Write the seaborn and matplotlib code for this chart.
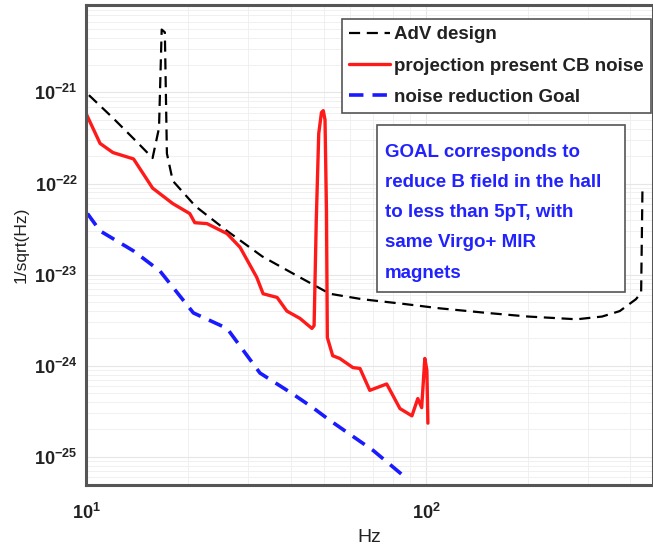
import numpy as np
import pandas as pd
import matplotlib
matplotlib.use("Agg")
import matplotlib.pyplot as plt
from matplotlib.patches import Rectangle
import seaborn as sns

# AdV design sensitivity (log10 of 1/sqrt(Hz))
adv_f = [10.2, 12.0, 14.0, 15.7, 16.4, 16.7, 17.06, 17.3, 18.0, 21.0, 26.0, 33.0, 42.6,
         52.2, 65.0, 85.5, 110.0, 151.0, 200.0, 278.0, 330.0, 372.0, 415.0, 430.0, 434.0]
adv_log = [-21.03, -21.28, -21.53, -21.72, -21.39, -20.31, -20.34, -21.67, -21.97, -22.25,
           -22.52, -22.80, -23.03, -23.21, -23.27, -23.32, -23.37, -23.42, -23.46, -23.49,
           -23.46, -23.40, -23.27, -23.20, -22.02]

# projection present CB noise
cb_f = [10.0, 11.0, 12.0, 13.8, 15.7, 18.0, 20.2, 20.9, 22.7, 26.0, 28.4, 31.8, 33.2, 36.5,
        39.0, 42.6, 46.2, 46.9, 47.6, 48.4, 49.3, 49.9, 50.5, 51.0, 51.3, 53.2, 55.8, 61.0,
        64.0, 68.4, 76.7, 83.9, 91.0, 94.7, 97.2, 99.3, 100.7, 101.4]
cb_log = [-21.23, -21.56, -21.66, -21.73, -22.05, -22.22, -22.33, -22.43, -22.44, -22.55,
          -22.70, -23.03, -23.21, -23.25, -23.40, -23.48, -23.59, -23.56, -22.40, -21.45,
          -21.22, -21.20, -21.30, -22.30, -23.69, -23.89, -23.92, -24.02, -24.03, -24.27,
          -24.20, -24.47, -24.55, -24.36, -24.46, -23.92, -24.05, -24.63]

# noise reduction Goal
goal_f = [10.1, 11.0, 13.8, 16.5, 20.7, 26.0, 32.5, 40.6, 46.5, 52.2, 70.0, 88.0]
goal_log = [-22.33, -22.52, -22.74, -22.96, -23.42, -23.59, -24.08, -24.31, -24.46, -24.60,
            -24.93, -25.24]

series = ["AdV design", "projection present CB noise", "noise reduction Goal"]
note = "GOAL corresponds to\nreduce B field in the hall\nto less than 5pT, with\nsame Virgo+ MIR\nmagnets"

sns.set_style("white")
plt.rcParams['font.family'] = ['Liberation Sans', 'DejaVu Sans']

fig = plt.figure(figsize=(6.53, 5.5), dpi=100)
ax = fig.add_axes([0.1317, 0.118, 0.8683, 0.873])

adv = pd.DataFrame({'f': adv_f, 'h': 10 ** np.array(adv_log)})
cb = pd.DataFrame({'f': cb_f, 'h': 10 ** np.array(cb_log)})
goal = pd.DataFrame({'f': goal_f, 'h': 10 ** np.array(goal_log)})

sns.lineplot(data=adv, x='f', y='h', ax=ax, sort=False, estimator=None, color='black',
             lw=1.6, linestyle=(0, (5, 3)), label=series[0])
sns.lineplot(data=cb, x='f', y='h', ax=ax, sort=False, estimator=None, color='#ff1a1a',
             lw=2.4, label=series[1])
sns.lineplot(data=goal, x='f', y='h', ax=ax, sort=False, estimator=None, color='#1a1aff',
             lw=2.6, linestyle=(0, (4, 2.5)), label=series[2])

ax.set_xscale('log')
ax.set_yscale('log')
ax.set_xlim(10, 466)
ax.set_ylim(10 ** -25.31, 10 ** -20.04)
ax.set_yticks([1e-25, 1e-24, 1e-23, 1e-22, 1e-21])
ax.set_xticks([10, 100])

ax.grid(True, which='major', color='#e6e6e6', lw=0.8)
ax.grid(True, which='minor', color='#eeeeee', lw=0.6)
ax.tick_params(axis='both', which='both', length=0, labelsize=13, colors='#222222')
ax.tick_params(axis='x', pad=13)
ax.tick_params(axis='y', pad=6)
for lbl in ax.get_xticklabels() + ax.get_yticklabels():
    lbl.set_fontweight('bold')
for s in ax.spines.values():
    s.set_color('#555555')
    s.set_linewidth(2.2)

ax.set_xlabel('Hz', fontsize=14, color='#222222', labelpad=4)
ax.set_ylabel('1/sqrt(Hz)', fontsize=12.5, color='#222222', labelpad=4)

leg = ax.legend(loc='upper left', bbox_to_anchor=(0.451, 0.971), fancybox=False,
                edgecolor='#555555', framealpha=1, handlelength=2.2, handletextpad=0.2,
                borderaxespad=0, borderpad=0.4, labelspacing=0.75,
                prop={'size': 13.5, 'weight': 'bold'})
leg.get_frame().set_linewidth(1.2)
for t in leg.get_texts():
    t.set_color('#222222')

ax.add_patch(Rectangle((0.513, 0.402), 0.437, 0.348, transform=ax.transAxes,
                       facecolor='white', edgecolor='#555555', lw=1.2, zorder=5))
ax.text(0.527, 0.711, note, transform=ax.transAxes, va='top', ha='left', color='#2222ff',
        fontsize=13.5, fontweight='bold', linespacing=2.02, zorder=6)

fig.savefig('out.png', dpi=100)
